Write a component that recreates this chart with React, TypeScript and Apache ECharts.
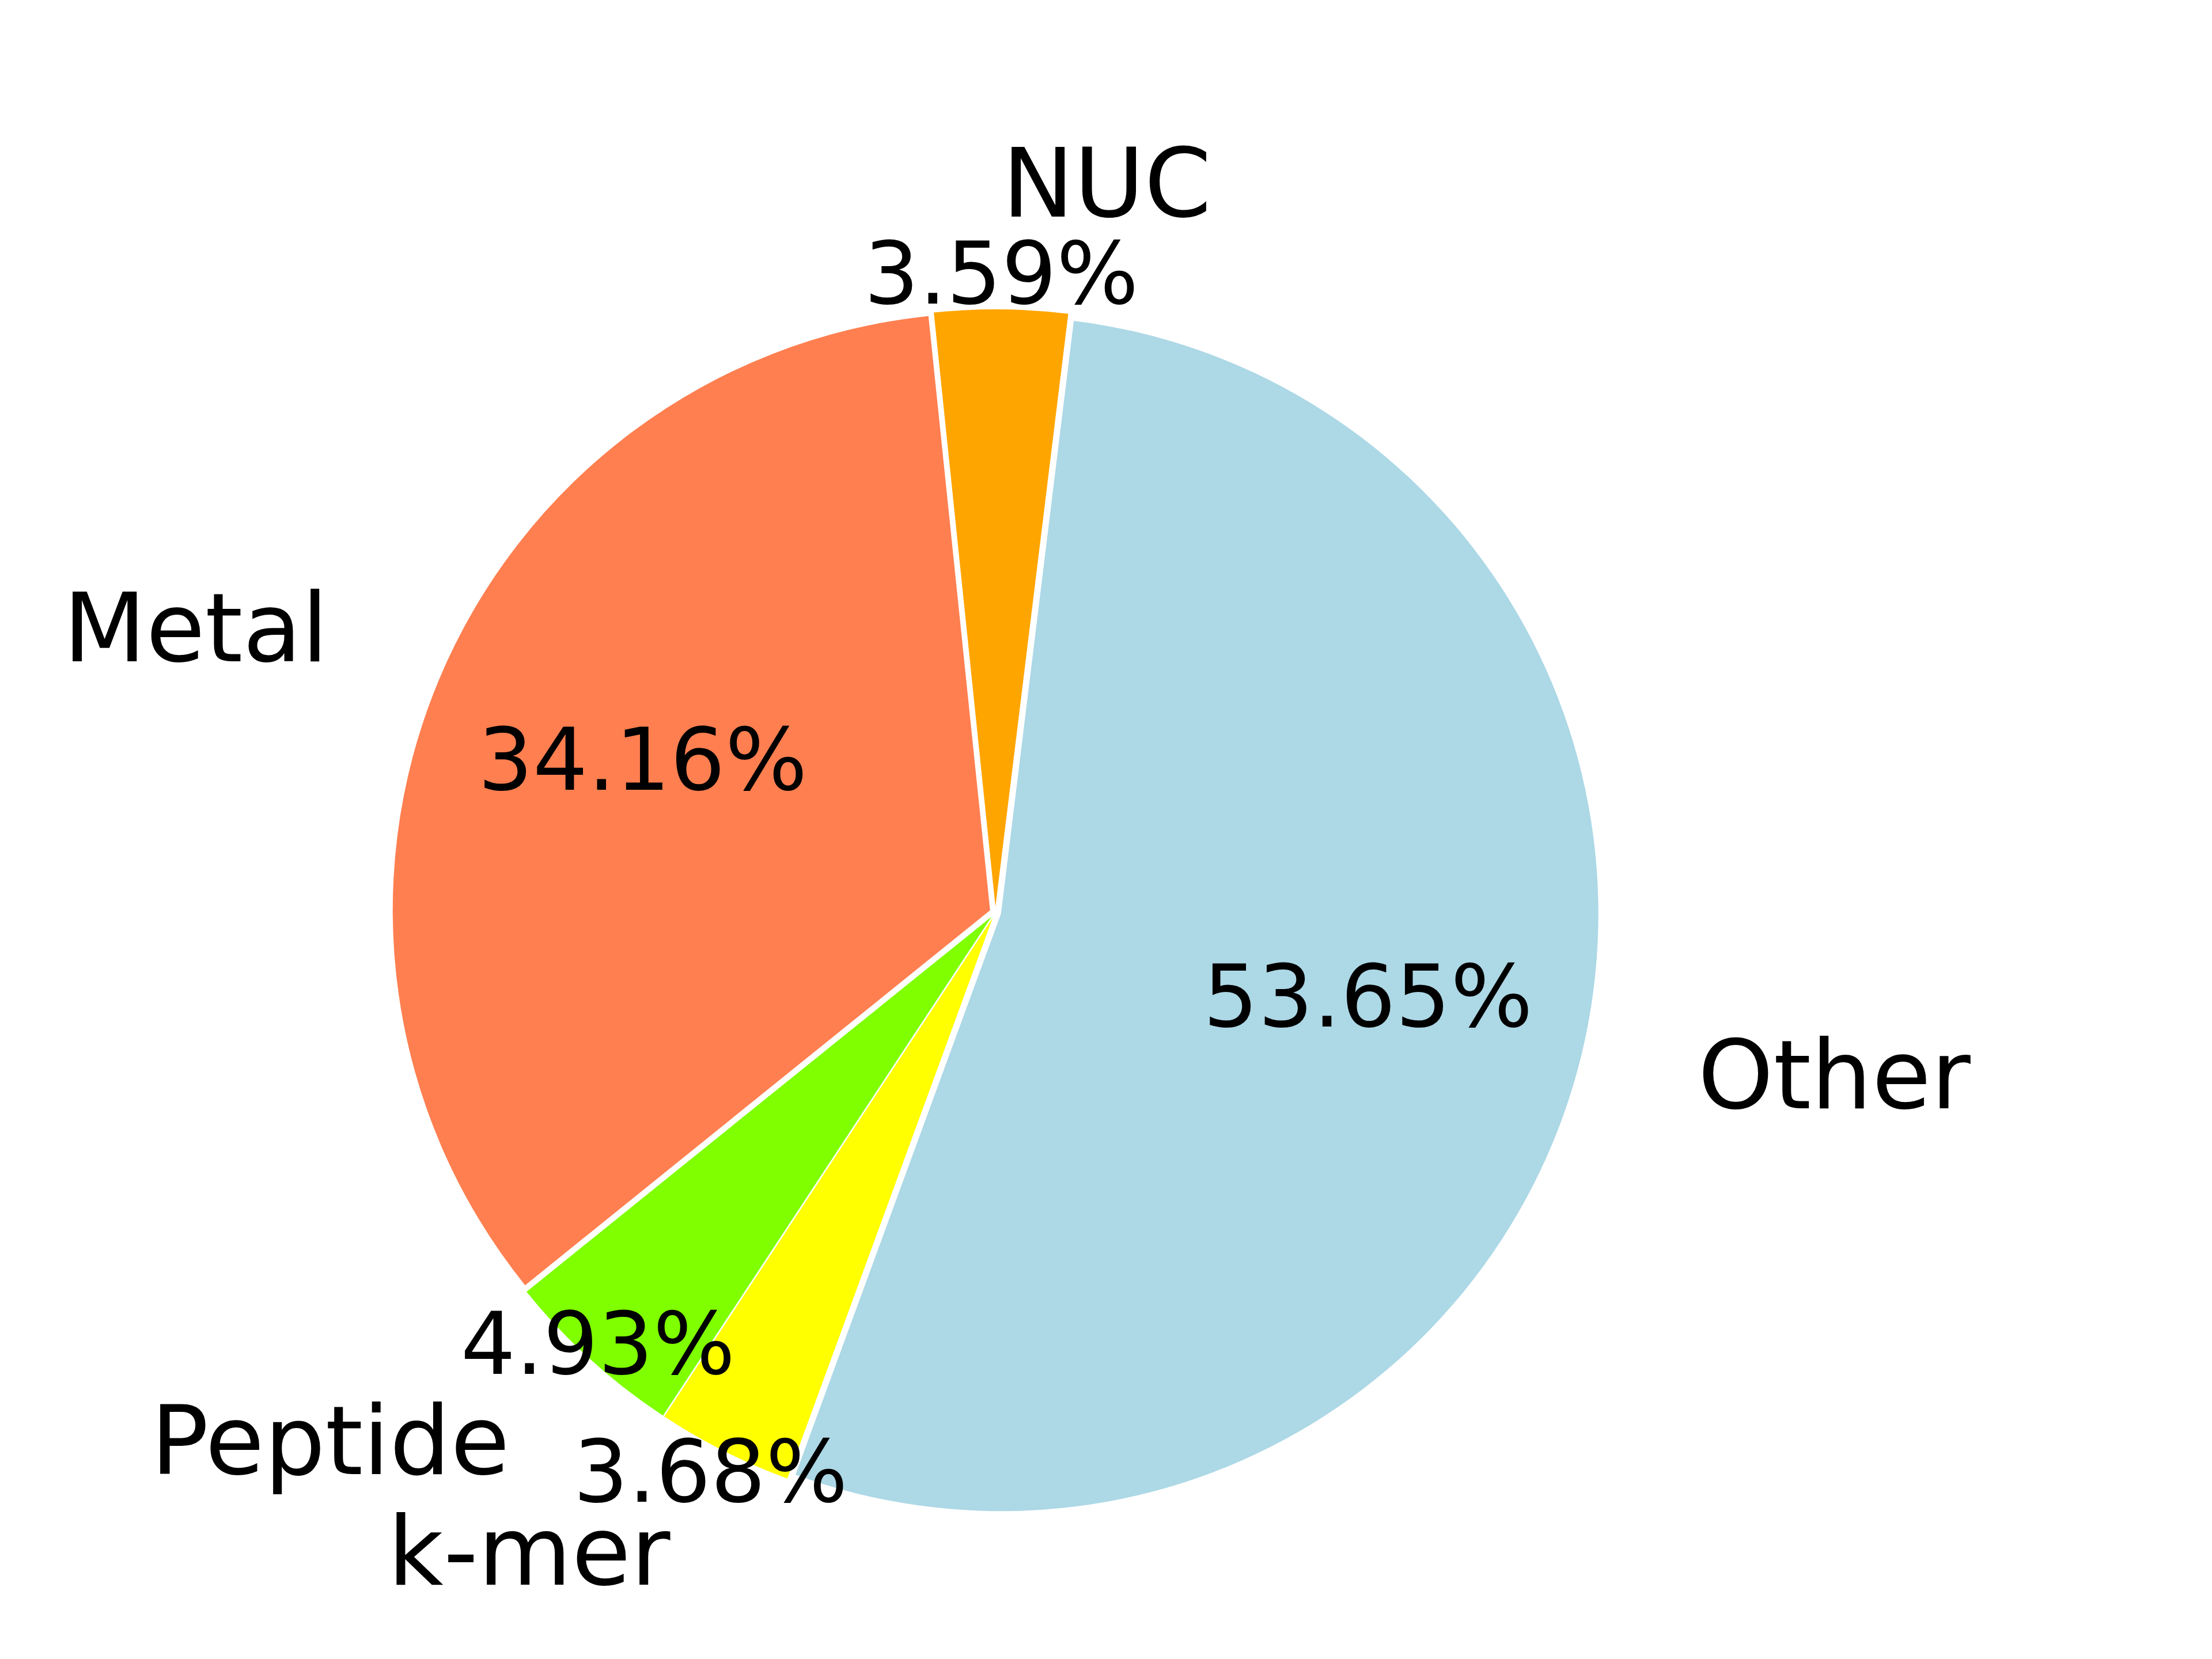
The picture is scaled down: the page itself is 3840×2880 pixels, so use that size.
import React, { useEffect, useRef } from "react";
import * as echarts from "echarts";

// slices in counter-clockwise order, starting just right of the top
const categories = ["NUC", "Metal", "Peptide", "k-mer", "Other"];
const shares = [3.59, 34.16, 4.93, 3.68, 53.65];
const colors = ["#FFA500", "#FF7F50", "#7FFF00", "#FFFF00", "#ADD8E6"];
// how far out each percentage sits, as a fraction of the radius
const pctDistances = [1.05, 0.63, 0.98, 1.05, 0.632];

const CENTER_X = 1728;
const CENTER_Y = 1584;
const RADIUS = 1037;
const START_ANGLE = 83;
const EXPLODE = 10;
const LABEL_DISTANCE = 1.2;
const NAME_FONT = 166.7;
const PCT_FONT = 150;
const FONT = "DejaVu Sans";

const buildLabels = () => {
  const total = shares.reduce((a, b) => a + b, 0);
  const texts: any[] = [];
  let acc = 0;
  shares.forEach((v, i) => {
    const mid = START_ANGLE + ((acc + v / 2) / total) * 360;
    acc += v;
    const rad = (mid * Math.PI) / 180;
    const ux = Math.cos(rad);
    const uy = -Math.sin(rad);
    const ox = CENTER_X + EXPLODE * ux;
    const oy = CENTER_Y + EXPLODE * uy;
    texts.push({
      type: "text",
      z: 100,
      x: ox + LABEL_DISTANCE * RADIUS * ux,
      y: oy + LABEL_DISTANCE * RADIUS * uy - 0.07 * NAME_FONT,
      style: {
        text: categories[i],
        fontSize: NAME_FONT,
        fontFamily: FONT,
        fill: "#000",
        align: ux > 0 ? "left" : "right",
        verticalAlign: "middle",
      },
    });
    texts.push({
      type: "text",
      z: 100,
      x: ox + pctDistances[i] * RADIUS * ux,
      y: oy + pctDistances[i] * RADIUS * uy - 0.07 * PCT_FONT,
      style: {
        text: v.toFixed(2) + "%",
        fontSize: PCT_FONT,
        fontFamily: FONT,
        fill: "#000",
        align: "center",
        verticalAlign: "middle",
      },
    });
  });
  return texts;
};

const App: React.FC = () => {
  const chartRef = useRef<HTMLDivElement>(null);

  useEffect(() => {
    document.body.style.margin = "0";
    const chartDom = chartRef.current;
    if (!chartDom) return;

    const myChart = echarts.init(chartDom, undefined, { renderer: "svg" });

    const option: echarts.EChartsOption = {
      animation: false,
      backgroundColor: "#fff",
      graphic: buildLabels(),
      series: [
        {
          type: "pie",
          center: [CENTER_X, CENTER_Y],
          radius: RADIUS,
          startAngle: START_ANGLE,
          clockwise: false,
          selectedMode: "multiple",
          selectedOffset: EXPLODE,
          silent: true,
          label: { show: false },
          labelLine: { show: false },
          emphasis: { disabled: true },
          itemStyle: { borderWidth: 0 },
          data: categories.map((name, i) => ({
            name,
            value: shares[i],
            selected: true,
            itemStyle: { color: colors[i] },
          })),
        },
      ],
    };

    myChart.setOption(option);

    return () => {
      myChart.dispose();
    };
  }, []);

  return <div ref={chartRef} style={{ width: "3840px", height: "2880px" }} />;
};

export default App;
